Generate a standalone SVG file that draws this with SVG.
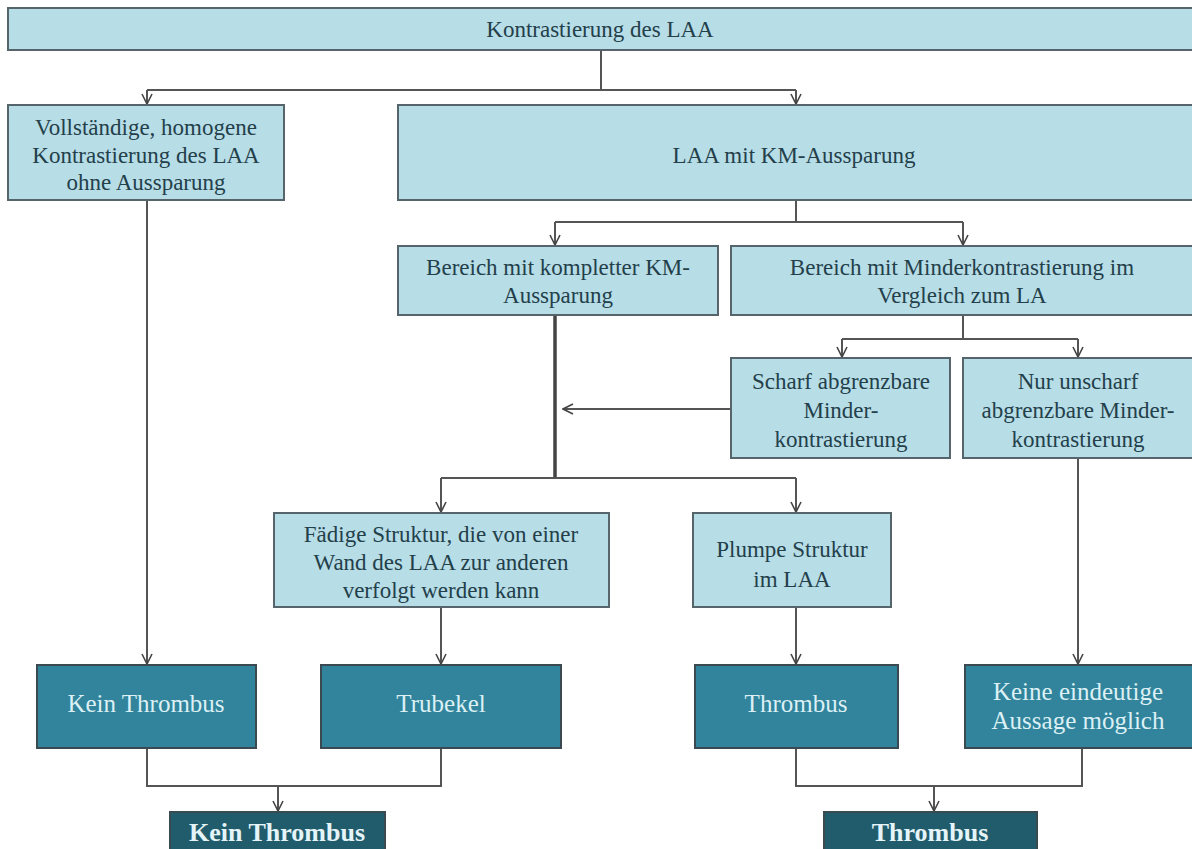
<svg xmlns="http://www.w3.org/2000/svg" width="1192" height="849" viewBox="0 0 1192 849">
<style>
.lb{fill:#b7dde7;stroke:#55656b;stroke-width:2}
.tb{fill:#31849b;stroke:#3a4a50;stroke-width:2}
.db{fill:#215c6c;stroke:#3a4a50;stroke-width:2}
.t{font-family:"Liberation Serif",serif;font-weight:400;font-size:23px;fill:#23404a;text-anchor:middle}
.w{font-family:"Liberation Serif",serif;font-weight:400;font-size:25px;fill:#dcf0f5;text-anchor:middle}
.wb{font-family:"Liberation Serif",serif;font-size:26px;font-weight:bold;fill:#e4f4f8;text-anchor:middle}
.c{fill:none;stroke:#555;stroke-width:2}
.ck{fill:none;stroke:#444;stroke-width:3.5}
</style>
<defs>
<marker id="a" viewBox="0 0 12 12" refX="11" refY="6" markerWidth="12" markerHeight="12" markerUnits="userSpaceOnUse" orient="auto">
<path d="M1,1 L11,6 L1,11" fill="none" stroke="#444" stroke-width="1.6"/>
</marker>
</defs>
<rect width="1192" height="849" fill="#ffffff"/>
<g id="connectors">
<path class="c" d="M601,50 V90"/>
<path class="c" d="M147,90 H796"/>
<path class="c" d="M147,90 V104" marker-end="url(#a)"/>
<path class="c" d="M796,90 V104" marker-end="url(#a)"/>
<path class="c" d="M796,200 V222 M555,222 H963"/>
<path class="c" d="M555,222 V245" marker-end="url(#a)"/>
<path class="c" d="M963,222 V245" marker-end="url(#a)"/>
<path class="c" d="M963,315 V339 M842,339 H1078"/>
<path class="c" d="M842,339 V357" marker-end="url(#a)"/>
<path class="c" d="M1078,339 V357" marker-end="url(#a)"/>
<path class="c" d="M731,409 H563" marker-end="url(#a)"/>
<path class="ck" d="M555,315 V479"/>
<path class="c" d="M441,478 H796"/>
<path class="c" d="M441,478 V512" marker-end="url(#a)"/>
<path class="c" d="M796,478 V512" marker-end="url(#a)"/>
<path class="c" d="M147,200 V664" marker-end="url(#a)"/>
<path class="c" d="M441,607 V664" marker-end="url(#a)"/>
<path class="c" d="M796,607 V664" marker-end="url(#a)"/>
<path class="c" d="M1078,458 V664" marker-end="url(#a)"/>
<path class="c" d="M147,748 V786 H441 V748"/>
<path class="c" d="M278,786 V811" marker-end="url(#a)"/>
<path class="c" d="M796,748 V786 H1082 V748"/>
<path class="c" d="M934,786 V811" marker-end="url(#a)"/>
</g>
<g id="n-top"><rect class="lb" x="8" y="8" width="1190" height="42"/><text class="t" x="600" y="37">Kontrastierung  des LAA</text></g>
<g id="n-voll"><rect class="lb" x="8" y="105" width="276" height="95"/>
<text class="t" x="146" y="135">Vollständige, homogene</text>
<text class="t" x="146" y="163">Kontrastierung  des LAA</text>
<text class="t" x="146" y="190">ohne Aussparung</text></g>
<g id="n-laa"><rect class="lb" x="398" y="105" width="800" height="95"/><text class="t" x="794" y="163">LAA mit KM-Aussparung</text></g>
<g id="n-komp"><rect class="lb" x="398" y="246" width="320" height="69"/>
<text class="t" x="558" y="275">Bereich mit kompletter KM-</text>
<text class="t" x="558" y="303">Aussparung</text></g>
<g id="n-minder"><rect class="lb" x="731" y="246" width="467" height="69"/>
<text class="t" x="962" y="275">Bereich mit Minderkontrastierung  im</text>
<text class="t" x="962" y="303">Vergleich  zum LA</text></g>
<g id="n-scharf"><rect class="lb" x="731" y="358" width="219" height="100"/>
<text class="t" x="841" y="389">Scharf abgrenzbare</text>
<text class="t" x="841" y="418">Minder-</text>
<text class="t" x="841" y="447">kontrastierung</text></g>
<g id="n-unscharf"><rect class="lb" x="963" y="358" width="235" height="100"/>
<text class="t" x="1078" y="389">Nur unscharf</text>
<text class="t" x="1078" y="418">abgrenzbare  Minder-</text>
<text class="t" x="1078" y="447">kontrastierung</text></g>
<g id="n-faedig"><rect class="lb" x="274" y="513" width="335" height="94"/>
<text class="t" x="441" y="542">Fädige Struktur, die von einer</text>
<text class="t" x="441" y="570">Wand des LAA zur anderen</text>
<text class="t" x="441" y="598">verfolgt  werden kann</text></g>
<g id="n-plumpe"><rect class="lb" x="693" y="513" width="198" height="94"/>
<text class="t" x="792" y="557">Plumpe Struktur</text>
<text class="t" x="792" y="587">im LAA</text></g>
<g id="n-kein1"><rect class="tb" x="37" y="665" width="219" height="83"/><text class="w" x="146" y="712">Kein Thrombus</text></g>
<g id="n-trubekel"><rect class="tb" x="321" y="665" width="240" height="83"/><text class="w" x="441" y="712">Trubekel</text></g>
<g id="n-thrombus1"><rect class="tb" x="695" y="665" width="203" height="83"/><text class="w" x="796" y="712">Thrombus</text></g>
<g id="n-keine"><rect class="tb" x="965" y="665" width="233" height="83"/>
<text class="w" x="1078" y="700">Keine eindeutige</text>
<text class="w" x="1078" y="729">Aussage  möglich</text></g>
<g id="n-kein2"><rect class="db" x="170" y="812" width="215" height="48"/><text class="wb" x="277" y="841">Kein Thrombus</text></g>
<g id="n-thrombus2"><rect class="db" x="824" y="812" width="213" height="48"/><text class="wb" x="930" y="841">Thrombus</text></g>
</svg>
